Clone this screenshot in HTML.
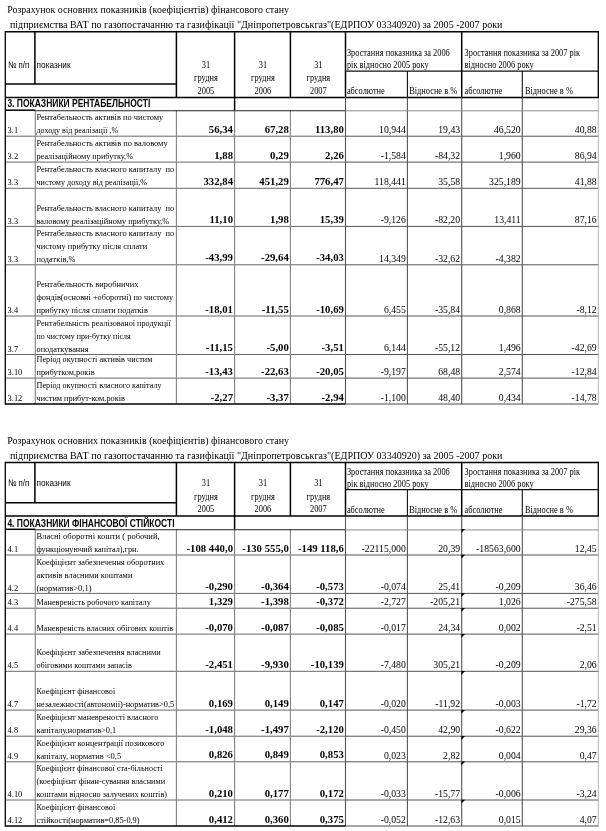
<!DOCTYPE html>
<html lang="uk"><head><meta charset="utf-8"><title>Розрахунок основних показників</title>
<style>
html,body{margin:0;padding:0;background:#fff;}
svg{display:block;filter:blur(0.3px);}
text{white-space:pre;fill:#000;}
.s{font-family:"Liberation Serif","Times New Roman",serif;}
.a{font-family:"Liberation Sans",Arial,sans-serif;}
</style></head><body>
<svg width="606" height="831" viewBox="0 0 606 831">
<rect width="606" height="831" fill="#fff"/>
<text class="s" x="7.15" y="13.40" font-size="9.95">Розрахунок основних показників (коефіцієнтів) фінансового стану</text>
<text class="s" x="9.90" y="28.10" font-size="10.05">підприємства ВАТ по газопостачанню та газифікації "Дніпропетровськгаз"(ЕДРПОУ 03340920) за 2005 -2007 роки</text>
<line x1="5.30" y1="136.20" x2="345.50" y2="136.20" stroke="#686868" stroke-width="1.0"/>
<line x1="345.50" y1="136.20" x2="598.30" y2="136.20" stroke="#555" stroke-width="1.0"/>
<line x1="5.30" y1="162.10" x2="345.50" y2="162.10" stroke="#686868" stroke-width="1.0"/>
<line x1="345.50" y1="162.10" x2="598.30" y2="162.10" stroke="#555" stroke-width="1.0"/>
<line x1="5.30" y1="188.30" x2="345.50" y2="188.30" stroke="#686868" stroke-width="1.0"/>
<line x1="345.50" y1="188.30" x2="598.30" y2="188.30" stroke="#555" stroke-width="1.0"/>
<line x1="5.30" y1="226.40" x2="345.50" y2="226.40" stroke="#686868" stroke-width="1.0"/>
<line x1="345.50" y1="226.40" x2="598.30" y2="226.40" stroke="#555" stroke-width="1.0"/>
<line x1="5.30" y1="264.80" x2="345.50" y2="264.80" stroke="#686868" stroke-width="1.0"/>
<line x1="345.50" y1="264.80" x2="598.30" y2="264.80" stroke="#555" stroke-width="1.0"/>
<line x1="5.30" y1="316.00" x2="345.50" y2="316.00" stroke="#686868" stroke-width="1.0"/>
<line x1="345.50" y1="316.00" x2="598.30" y2="316.00" stroke="#555" stroke-width="1.0"/>
<line x1="5.30" y1="354.50" x2="345.50" y2="354.50" stroke="#686868" stroke-width="1.0"/>
<line x1="345.50" y1="354.50" x2="598.30" y2="354.50" stroke="#555" stroke-width="1.0"/>
<line x1="5.30" y1="378.10" x2="345.50" y2="378.10" stroke="#686868" stroke-width="1.0"/>
<line x1="345.50" y1="378.10" x2="598.30" y2="378.10" stroke="#555" stroke-width="1.0"/>
<line x1="35.30" y1="110.20" x2="35.30" y2="404.00" stroke="#8c8c8c" stroke-width="1.2"/>
<line x1="176.40" y1="110.20" x2="176.40" y2="404.00" stroke="#828282" stroke-width="1.1"/>
<line x1="234.60" y1="110.20" x2="234.60" y2="404.00" stroke="#828282" stroke-width="1.1"/>
<line x1="290.40" y1="110.20" x2="290.40" y2="404.00" stroke="#828282" stroke-width="1.1"/>
<line x1="345.50" y1="110.20" x2="345.50" y2="404.00" stroke="#555" stroke-width="1.1"/>
<line x1="407.40" y1="110.20" x2="407.40" y2="404.00" stroke="#555" stroke-width="1.1"/>
<line x1="461.70" y1="110.20" x2="461.70" y2="404.00" stroke="#555" stroke-width="1.1"/>
<line x1="522.30" y1="110.20" x2="522.30" y2="404.00" stroke="#555" stroke-width="1.1"/>
<line x1="598.30" y1="97.40" x2="598.30" y2="404.00" stroke="#b4b4b4" stroke-width="1.0"/>
<line x1="5.30" y1="31.00" x2="5.30" y2="404.70" stroke="#000" stroke-width="1.3"/>
<line x1="598.30" y1="31.00" x2="598.30" y2="97.90" stroke="#111" stroke-width="1.4"/>
<line x1="5.30" y1="31.70" x2="598.30" y2="31.70" stroke="#000" stroke-width="1.5"/>
<line x1="5.30" y1="404.00" x2="345.50" y2="404.00" stroke="#000" stroke-width="1.5"/>
<line x1="345.50" y1="404.00" x2="598.30" y2="404.00" stroke="#4a4a4a" stroke-width="1.0"/>
<line x1="34.90" y1="31.70" x2="34.90" y2="84.00" stroke="#000" stroke-width="1.5"/>
<line x1="176.40" y1="31.70" x2="176.40" y2="97.40" stroke="#000" stroke-width="1.5"/>
<line x1="234.60" y1="31.70" x2="234.60" y2="97.40" stroke="#000" stroke-width="1.5"/>
<line x1="290.40" y1="31.70" x2="290.40" y2="97.40" stroke="#000" stroke-width="1.5"/>
<line x1="345.50" y1="31.70" x2="345.50" y2="97.40" stroke="#000" stroke-width="1.5"/>
<line x1="461.70" y1="31.70" x2="461.70" y2="97.40" stroke="#000" stroke-width="1.5"/>
<line x1="345.50" y1="71.10" x2="598.30" y2="71.10" stroke="#111" stroke-width="1.2"/>
<line x1="407.40" y1="71.10" x2="407.40" y2="97.40" stroke="#111" stroke-width="1.1"/>
<line x1="522.30" y1="71.10" x2="522.30" y2="97.40" stroke="#111" stroke-width="1.1"/>
<line x1="5.30" y1="84.00" x2="176.40" y2="84.00" stroke="#000" stroke-width="1.5"/>
<line x1="5.30" y1="97.40" x2="598.30" y2="97.40" stroke="#000" stroke-width="1.5"/>
<line x1="5.30" y1="110.20" x2="35.30" y2="110.20" stroke="#000" stroke-width="1.5"/>
<line x1="35.30" y1="110.70" x2="345.50" y2="110.70" stroke="#222" stroke-width="1.1"/>
<line x1="345.50" y1="110.80" x2="598.30" y2="110.80" stroke="#8c8c8c" stroke-width="1.0"/>
<line x1="234.60" y1="97.40" x2="234.60" y2="110.20" stroke="#000" stroke-width="1.5"/>
<line x1="345.50" y1="97.40" x2="345.50" y2="110.20" stroke="#555" stroke-width="1.1"/>
<line x1="407.40" y1="97.40" x2="407.40" y2="110.20" stroke="#555" stroke-width="1.1"/>
<line x1="461.70" y1="97.40" x2="461.70" y2="110.20" stroke="#555" stroke-width="1.1"/>
<line x1="522.30" y1="97.40" x2="522.30" y2="110.20" stroke="#555" stroke-width="1.1"/>
<text class="a" transform="translate(7.90 67.70) scale(0.84 1)" font-size="9.4">№ п/п</text>
<text class="a" transform="translate(36.60 67.70) scale(0.88 1)" font-size="9.4">показник</text>
<text class="s" transform="translate(205.90 67.80) scale(0.886 1)" font-size="9.45" text-anchor="middle">31</text>
<text class="s" transform="translate(205.90 81.40) scale(0.886 1)" font-size="9.45" text-anchor="middle">грудня</text>
<text class="s" transform="translate(205.90 93.70) scale(0.886 1)" font-size="9.45" text-anchor="middle">2005</text>
<text class="s" transform="translate(262.90 67.80) scale(0.886 1)" font-size="9.45" text-anchor="middle">31</text>
<text class="s" transform="translate(262.90 81.40) scale(0.886 1)" font-size="9.45" text-anchor="middle">грудня</text>
<text class="s" transform="translate(262.90 93.70) scale(0.886 1)" font-size="9.45" text-anchor="middle">2006</text>
<text class="s" transform="translate(318.35 67.80) scale(0.886 1)" font-size="9.45" text-anchor="middle">31</text>
<text class="s" transform="translate(318.35 81.40) scale(0.886 1)" font-size="9.45" text-anchor="middle">грудня</text>
<text class="s" transform="translate(318.35 93.70) scale(0.886 1)" font-size="9.45" text-anchor="middle">2007</text>
<text class="s" transform="translate(346.90 56.40) scale(0.886 1)" font-size="9.45">Зростання показника за 2006</text>
<text class="s" transform="translate(346.90 68.20) scale(0.886 1)" font-size="9.45">рік відносно 2005 року</text>
<text class="s" transform="translate(464.60 56.40) scale(0.886 1)" font-size="9.45">Зростання показника за 2007 рік</text>
<text class="s" transform="translate(464.60 68.20) scale(0.886 1)" font-size="9.45">відносно 2006 року</text>
<text class="s" transform="translate(346.90 94.30) scale(0.886 1)" font-size="9.45">абсолютне</text>
<text class="s" transform="translate(409.20 94.30) scale(0.886 1)" font-size="9.45">Відносне в %</text>
<text class="s" transform="translate(464.60 94.30) scale(0.886 1)" font-size="9.45">абсолютне</text>
<text class="s" transform="translate(524.90 94.30) scale(0.886 1)" font-size="9.45">Відносне в %</text>
<text class="a" transform="translate(7.40 107.40) scale(0.85 1)" font-size="10.0" font-weight="bold">3. ПОКАЗНИКИ РЕНТАБЕЛЬНОСТІ</text>
<text class="s" transform="translate(7.60 133.30) scale(0.93 1)" font-size="9.0">3.1</text>
<text class="s" transform="translate(36.50 120.35) scale(0.9324 1)" font-size="9.0">Рентабельность активів по чистому</text>
<text class="s" transform="translate(36.50 133.30) scale(0.897 1)" font-size="9.0">доходу від реалізації ,%</text>
<text class="s" transform="translate(233.00 132.85) scale(0.95 1)" font-size="11.3" text-anchor="end" font-weight="bold">56,34</text>
<text class="s" transform="translate(288.80 132.85) scale(0.95 1)" font-size="11.3" text-anchor="end" font-weight="bold">67,28</text>
<text class="s" transform="translate(343.90 132.85) scale(0.95 1)" font-size="11.3" text-anchor="end" font-weight="bold">113,80</text>
<text class="s" transform="translate(405.80 133.05) scale(0.885 1)" font-size="11.0" text-anchor="end">10,944</text>
<text class="s" transform="translate(460.10 133.05) scale(0.885 1)" font-size="11.0" text-anchor="end">19,43</text>
<text class="s" transform="translate(520.70 133.05) scale(0.885 1)" font-size="11.0" text-anchor="end">46,520</text>
<text class="s" transform="translate(596.70 133.05) scale(0.885 1)" font-size="11.0" text-anchor="end">40,88</text>
<text class="s" transform="translate(7.60 159.20) scale(0.93 1)" font-size="9.0">3.2</text>
<text class="s" transform="translate(36.50 146.25) scale(0.9356 1)" font-size="9.0">Рентабельность активів по валовому</text>
<text class="s" transform="translate(36.50 159.20) scale(0.918 1)" font-size="9.0">реалізаційному прибутку,%</text>
<text class="s" transform="translate(233.00 158.75) scale(0.95 1)" font-size="11.3" text-anchor="end" font-weight="bold">1,88</text>
<text class="s" transform="translate(288.80 158.75) scale(0.95 1)" font-size="11.3" text-anchor="end" font-weight="bold">0,29</text>
<text class="s" transform="translate(343.90 158.75) scale(0.95 1)" font-size="11.3" text-anchor="end" font-weight="bold">2,26</text>
<text class="s" transform="translate(405.80 158.95) scale(0.885 1)" font-size="11.0" text-anchor="end">-1,584</text>
<text class="s" transform="translate(460.10 158.95) scale(0.885 1)" font-size="11.0" text-anchor="end">-84,32</text>
<text class="s" transform="translate(520.70 158.95) scale(0.885 1)" font-size="11.0" text-anchor="end">1,960</text>
<text class="s" transform="translate(596.70 158.95) scale(0.885 1)" font-size="11.0" text-anchor="end">86,94</text>
<text class="s" transform="translate(7.60 185.40) scale(0.93 1)" font-size="9.0">3.3</text>
<text class="s" transform="translate(36.50 172.45) scale(0.9361 1)" font-size="9.0">Рентабельность власного капиталу  по</text>
<text class="s" transform="translate(36.50 185.40) scale(0.9018 1)" font-size="9.0">чистому доходу від реалізації,%</text>
<text class="s" transform="translate(233.00 184.95) scale(0.95 1)" font-size="11.3" text-anchor="end" font-weight="bold">332,84</text>
<text class="s" transform="translate(288.80 184.95) scale(0.95 1)" font-size="11.3" text-anchor="end" font-weight="bold">451,29</text>
<text class="s" transform="translate(343.90 184.95) scale(0.95 1)" font-size="11.3" text-anchor="end" font-weight="bold">776,47</text>
<text class="s" transform="translate(405.80 185.15) scale(0.885 1)" font-size="11.0" text-anchor="end">118,441</text>
<text class="s" transform="translate(460.10 185.15) scale(0.885 1)" font-size="11.0" text-anchor="end">35,58</text>
<text class="s" transform="translate(520.70 185.15) scale(0.885 1)" font-size="11.0" text-anchor="end">325,189</text>
<text class="s" transform="translate(596.70 185.15) scale(0.885 1)" font-size="11.0" text-anchor="end">41,88</text>
<text class="s" transform="translate(7.60 223.50) scale(0.93 1)" font-size="9.0">3.3</text>
<text class="s" transform="translate(36.50 210.55) scale(0.9361 1)" font-size="9.0">Рентабельность власного капиталу  по</text>
<text class="s" transform="translate(36.50 223.50) scale(0.9275 1)" font-size="9.0">валовому реалізаційному прибутку,%</text>
<text class="s" transform="translate(233.00 223.05) scale(0.95 1)" font-size="11.3" text-anchor="end" font-weight="bold">11,10</text>
<text class="s" transform="translate(288.80 223.05) scale(0.95 1)" font-size="11.3" text-anchor="end" font-weight="bold">1,98</text>
<text class="s" transform="translate(343.90 223.05) scale(0.95 1)" font-size="11.3" text-anchor="end" font-weight="bold">15,39</text>
<text class="s" transform="translate(405.80 223.25) scale(0.885 1)" font-size="11.0" text-anchor="end">-9,126</text>
<text class="s" transform="translate(460.10 223.25) scale(0.885 1)" font-size="11.0" text-anchor="end">-82,20</text>
<text class="s" transform="translate(520.70 223.25) scale(0.885 1)" font-size="11.0" text-anchor="end">13,411</text>
<text class="s" transform="translate(596.70 223.25) scale(0.885 1)" font-size="11.0" text-anchor="end">87,16</text>
<text class="s" transform="translate(7.60 261.90) scale(0.93 1)" font-size="9.0">3.3</text>
<text class="s" transform="translate(36.50 236.00) scale(0.9361 1)" font-size="9.0">Рентабельность власного капиталу  по</text>
<text class="s" transform="translate(36.50 248.95) scale(0.9254 1)" font-size="9.0">чистому прибутку після сплати</text>
<text class="s" transform="translate(36.50 261.90) scale(0.9241 1)" font-size="9.0">податків,%</text>
<text class="s" transform="translate(233.00 261.45) scale(0.95 1)" font-size="11.3" text-anchor="end" font-weight="bold">-43,99</text>
<text class="s" transform="translate(288.80 261.45) scale(0.95 1)" font-size="11.3" text-anchor="end" font-weight="bold">-29,64</text>
<text class="s" transform="translate(343.90 261.45) scale(0.95 1)" font-size="11.3" text-anchor="end" font-weight="bold">-34,03</text>
<text class="s" transform="translate(405.80 261.65) scale(0.885 1)" font-size="11.0" text-anchor="end">14,349</text>
<text class="s" transform="translate(460.10 261.65) scale(0.885 1)" font-size="11.0" text-anchor="end">-32,62</text>
<text class="s" transform="translate(520.70 261.65) scale(0.885 1)" font-size="11.0" text-anchor="end">-4,382</text>
<text class="s" transform="translate(7.60 313.10) scale(0.93 1)" font-size="9.0">3.4</text>
<text class="s" transform="translate(36.50 287.20) scale(0.939 1)" font-size="9.0">Рентабельность виробничих</text>
<text class="s" transform="translate(36.50 300.15) scale(0.9206 1)" font-size="9.0">фондів(основні +оборотні) по чистому</text>
<text class="s" transform="translate(36.50 313.10) scale(0.9252 1)" font-size="9.0">прибутку після сплати податків</text>
<text class="s" transform="translate(233.00 312.65) scale(0.95 1)" font-size="11.3" text-anchor="end" font-weight="bold">-18,01</text>
<text class="s" transform="translate(288.80 312.65) scale(0.95 1)" font-size="11.3" text-anchor="end" font-weight="bold">-11,55</text>
<text class="s" transform="translate(343.90 312.65) scale(0.95 1)" font-size="11.3" text-anchor="end" font-weight="bold">-10,69</text>
<text class="s" transform="translate(405.80 312.85) scale(0.885 1)" font-size="11.0" text-anchor="end">6,455</text>
<text class="s" transform="translate(460.10 312.85) scale(0.885 1)" font-size="11.0" text-anchor="end">-35,84</text>
<text class="s" transform="translate(520.70 312.85) scale(0.885 1)" font-size="11.0" text-anchor="end">0,868</text>
<text class="s" transform="translate(596.70 312.85) scale(0.885 1)" font-size="11.0" text-anchor="end">-8,12</text>
<text class="s" transform="translate(7.60 351.60) scale(0.93 1)" font-size="9.0">3.7</text>
<text class="s" transform="translate(36.50 325.70) scale(0.9131 1)" font-size="9.0">Рентабельність реалізованої продукції</text>
<text class="s" transform="translate(36.50 338.65) scale(0.8867 1)" font-size="9.0">по чистому при-бутку після</text>
<text class="s" transform="translate(36.50 351.60) scale(0.9225 1)" font-size="9.0">оподаткування</text>
<text class="s" transform="translate(233.00 351.15) scale(0.95 1)" font-size="11.3" text-anchor="end" font-weight="bold">-11,15</text>
<text class="s" transform="translate(288.80 351.15) scale(0.95 1)" font-size="11.3" text-anchor="end" font-weight="bold">-5,00</text>
<text class="s" transform="translate(343.90 351.15) scale(0.95 1)" font-size="11.3" text-anchor="end" font-weight="bold">-3,51</text>
<text class="s" transform="translate(405.80 351.35) scale(0.885 1)" font-size="11.0" text-anchor="end">6,144</text>
<text class="s" transform="translate(460.10 351.35) scale(0.885 1)" font-size="11.0" text-anchor="end">-55,12</text>
<text class="s" transform="translate(520.70 351.35) scale(0.885 1)" font-size="11.0" text-anchor="end">1,496</text>
<text class="s" transform="translate(596.70 351.35) scale(0.885 1)" font-size="11.0" text-anchor="end">-42,69</text>
<text class="s" transform="translate(7.60 375.20) scale(0.93 1)" font-size="9.0">3.10</text>
<text class="s" transform="translate(36.50 362.25) scale(0.9159 1)" font-size="9.0">Період окупності активів чистим</text>
<text class="s" transform="translate(36.50 375.20) scale(0.9205 1)" font-size="9.0">прибутком,років</text>
<text class="s" transform="translate(233.00 374.75) scale(0.95 1)" font-size="11.3" text-anchor="end" font-weight="bold">-13,43</text>
<text class="s" transform="translate(288.80 374.75) scale(0.95 1)" font-size="11.3" text-anchor="end" font-weight="bold">-22,63</text>
<text class="s" transform="translate(343.90 374.75) scale(0.95 1)" font-size="11.3" text-anchor="end" font-weight="bold">-20,05</text>
<text class="s" transform="translate(405.80 374.95) scale(0.885 1)" font-size="11.0" text-anchor="end">-9,197</text>
<text class="s" transform="translate(460.10 374.95) scale(0.885 1)" font-size="11.0" text-anchor="end">68,48</text>
<text class="s" transform="translate(520.70 374.95) scale(0.885 1)" font-size="11.0" text-anchor="end">2,574</text>
<text class="s" transform="translate(596.70 374.95) scale(0.885 1)" font-size="11.0" text-anchor="end">-12,84</text>
<text class="s" transform="translate(7.60 401.10) scale(0.93 1)" font-size="9.0">3.12</text>
<text class="s" transform="translate(36.50 388.15) scale(0.9096 1)" font-size="9.0">Період окупності власного капіталу</text>
<text class="s" transform="translate(36.50 401.10) scale(0.9205 1)" font-size="9.0">чистим прибут-ком,років</text>
<text class="s" transform="translate(233.00 400.65) scale(0.95 1)" font-size="11.3" text-anchor="end" font-weight="bold">-2,27</text>
<text class="s" transform="translate(288.80 400.65) scale(0.95 1)" font-size="11.3" text-anchor="end" font-weight="bold">-3,37</text>
<text class="s" transform="translate(343.90 400.65) scale(0.95 1)" font-size="11.3" text-anchor="end" font-weight="bold">-2,94</text>
<text class="s" transform="translate(405.80 400.85) scale(0.885 1)" font-size="11.0" text-anchor="end">-1,100</text>
<text class="s" transform="translate(460.10 400.85) scale(0.885 1)" font-size="11.0" text-anchor="end">48,40</text>
<text class="s" transform="translate(520.70 400.85) scale(0.885 1)" font-size="11.0" text-anchor="end">0,434</text>
<text class="s" transform="translate(596.70 400.85) scale(0.885 1)" font-size="11.0" text-anchor="end">-14,78</text>
<text class="s" x="7.15" y="444.20" font-size="9.95">Розрахунок основних показників (коефіцієнтів) фінансового стану</text>
<text class="s" x="9.90" y="458.90" font-size="10.05">підприємства ВАТ по газопостачанню та газифікації "Дніпропетровськгаз"(ЕДРПОУ 03340920) за 2005 -2007 роки</text>
<line x1="5.30" y1="555.00" x2="345.50" y2="555.00" stroke="#686868" stroke-width="1.0"/>
<line x1="345.50" y1="555.00" x2="598.30" y2="555.00" stroke="#555" stroke-width="1.0"/>
<line x1="5.30" y1="593.40" x2="345.50" y2="593.40" stroke="#686868" stroke-width="1.0"/>
<line x1="345.50" y1="593.40" x2="598.30" y2="593.40" stroke="#555" stroke-width="1.0"/>
<line x1="5.30" y1="608.20" x2="345.50" y2="608.20" stroke="#686868" stroke-width="1.0"/>
<line x1="345.50" y1="608.20" x2="598.30" y2="608.20" stroke="#555" stroke-width="1.0"/>
<line x1="5.30" y1="634.10" x2="345.50" y2="634.10" stroke="#686868" stroke-width="1.0"/>
<line x1="345.50" y1="634.10" x2="598.30" y2="634.10" stroke="#555" stroke-width="1.0"/>
<line x1="5.30" y1="671.30" x2="345.50" y2="671.30" stroke="#686868" stroke-width="1.0"/>
<line x1="345.50" y1="671.30" x2="598.30" y2="671.30" stroke="#555" stroke-width="1.0"/>
<line x1="5.30" y1="710.10" x2="345.50" y2="710.10" stroke="#686868" stroke-width="1.0"/>
<line x1="345.50" y1="710.10" x2="598.30" y2="710.10" stroke="#555" stroke-width="1.0"/>
<line x1="5.30" y1="736.20" x2="345.50" y2="736.20" stroke="#686868" stroke-width="1.0"/>
<line x1="345.50" y1="736.20" x2="598.30" y2="736.20" stroke="#555" stroke-width="1.0"/>
<line x1="5.30" y1="761.80" x2="345.50" y2="761.80" stroke="#686868" stroke-width="1.0"/>
<line x1="345.50" y1="761.80" x2="598.30" y2="761.80" stroke="#555" stroke-width="1.0"/>
<line x1="5.30" y1="800.00" x2="345.50" y2="800.00" stroke="#686868" stroke-width="1.0"/>
<line x1="345.50" y1="800.00" x2="598.30" y2="800.00" stroke="#555" stroke-width="1.0"/>
<line x1="35.30" y1="529.30" x2="35.30" y2="826.00" stroke="#8c8c8c" stroke-width="1.2"/>
<line x1="176.40" y1="529.30" x2="176.40" y2="826.00" stroke="#828282" stroke-width="1.1"/>
<line x1="234.60" y1="529.30" x2="234.60" y2="826.00" stroke="#828282" stroke-width="1.1"/>
<line x1="290.40" y1="529.30" x2="290.40" y2="826.00" stroke="#828282" stroke-width="1.1"/>
<line x1="345.50" y1="529.30" x2="345.50" y2="826.00" stroke="#555" stroke-width="1.1"/>
<line x1="407.40" y1="529.30" x2="407.40" y2="826.00" stroke="#555" stroke-width="1.1"/>
<line x1="461.70" y1="529.30" x2="461.70" y2="826.00" stroke="#555" stroke-width="1.1"/>
<line x1="522.30" y1="529.30" x2="522.30" y2="826.00" stroke="#555" stroke-width="1.1"/>
<line x1="598.30" y1="516.00" x2="598.30" y2="826.00" stroke="#b4b4b4" stroke-width="1.0"/>
<line x1="5.30" y1="461.70" x2="5.30" y2="826.70" stroke="#000" stroke-width="1.3"/>
<line x1="598.30" y1="461.70" x2="598.30" y2="516.50" stroke="#111" stroke-width="1.4"/>
<line x1="5.30" y1="462.40" x2="598.30" y2="462.40" stroke="#000" stroke-width="1.5"/>
<line x1="5.30" y1="826.00" x2="345.50" y2="826.00" stroke="#000" stroke-width="1.5"/>
<line x1="345.50" y1="826.00" x2="598.30" y2="826.00" stroke="#4a4a4a" stroke-width="1.0"/>
<line x1="34.90" y1="462.40" x2="34.90" y2="502.70" stroke="#000" stroke-width="1.5"/>
<line x1="176.40" y1="462.40" x2="176.40" y2="516.00" stroke="#000" stroke-width="1.5"/>
<line x1="234.60" y1="462.40" x2="234.60" y2="516.00" stroke="#000" stroke-width="1.5"/>
<line x1="290.40" y1="462.40" x2="290.40" y2="516.00" stroke="#000" stroke-width="1.5"/>
<line x1="345.50" y1="462.40" x2="345.50" y2="516.00" stroke="#000" stroke-width="1.5"/>
<line x1="461.70" y1="462.40" x2="461.70" y2="516.00" stroke="#000" stroke-width="1.5"/>
<line x1="345.50" y1="489.70" x2="598.30" y2="489.70" stroke="#111" stroke-width="1.2"/>
<line x1="407.40" y1="489.70" x2="407.40" y2="516.00" stroke="#111" stroke-width="1.1"/>
<line x1="522.30" y1="489.70" x2="522.30" y2="516.00" stroke="#111" stroke-width="1.1"/>
<line x1="5.30" y1="502.70" x2="176.40" y2="502.70" stroke="#000" stroke-width="1.5"/>
<line x1="5.30" y1="516.00" x2="598.30" y2="516.00" stroke="#000" stroke-width="1.5"/>
<line x1="5.30" y1="529.30" x2="35.30" y2="529.30" stroke="#000" stroke-width="1.5"/>
<line x1="35.30" y1="529.80" x2="345.50" y2="529.80" stroke="#222" stroke-width="1.1"/>
<line x1="345.50" y1="529.90" x2="598.30" y2="529.90" stroke="#8c8c8c" stroke-width="1.0"/>
<line x1="234.60" y1="516.00" x2="234.60" y2="529.30" stroke="#000" stroke-width="1.5"/>
<line x1="345.50" y1="516.00" x2="345.50" y2="529.30" stroke="#555" stroke-width="1.1"/>
<line x1="407.40" y1="516.00" x2="407.40" y2="529.30" stroke="#555" stroke-width="1.1"/>
<line x1="461.70" y1="516.00" x2="461.70" y2="529.30" stroke="#555" stroke-width="1.1"/>
<line x1="522.30" y1="516.00" x2="522.30" y2="529.30" stroke="#555" stroke-width="1.1"/>
<text class="a" transform="translate(7.90 486.40) scale(0.84 1)" font-size="9.4">№ п/п</text>
<text class="a" transform="translate(36.60 486.40) scale(0.88 1)" font-size="9.4">показник</text>
<text class="s" transform="translate(205.90 486.40) scale(0.886 1)" font-size="9.45" text-anchor="middle">31</text>
<text class="s" transform="translate(205.90 500.00) scale(0.886 1)" font-size="9.45" text-anchor="middle">грудня</text>
<text class="s" transform="translate(205.90 512.30) scale(0.886 1)" font-size="9.45" text-anchor="middle">2005</text>
<text class="s" transform="translate(262.90 486.40) scale(0.886 1)" font-size="9.45" text-anchor="middle">31</text>
<text class="s" transform="translate(262.90 500.00) scale(0.886 1)" font-size="9.45" text-anchor="middle">грудня</text>
<text class="s" transform="translate(262.90 512.30) scale(0.886 1)" font-size="9.45" text-anchor="middle">2006</text>
<text class="s" transform="translate(318.35 486.40) scale(0.886 1)" font-size="9.45" text-anchor="middle">31</text>
<text class="s" transform="translate(318.35 500.00) scale(0.886 1)" font-size="9.45" text-anchor="middle">грудня</text>
<text class="s" transform="translate(318.35 512.30) scale(0.886 1)" font-size="9.45" text-anchor="middle">2007</text>
<text class="s" transform="translate(346.90 475.00) scale(0.886 1)" font-size="9.45">Зростання показника за 2006</text>
<text class="s" transform="translate(346.90 486.80) scale(0.886 1)" font-size="9.45">рік відносно 2005 року</text>
<text class="s" transform="translate(464.60 475.00) scale(0.886 1)" font-size="9.45">Зростання показника за 2007 рік</text>
<text class="s" transform="translate(464.60 486.80) scale(0.886 1)" font-size="9.45">відносно 2006 року</text>
<text class="s" transform="translate(346.90 512.90) scale(0.886 1)" font-size="9.45">абсолютне</text>
<text class="s" transform="translate(409.20 512.90) scale(0.886 1)" font-size="9.45">Відносне в %</text>
<text class="s" transform="translate(464.60 512.90) scale(0.886 1)" font-size="9.45">абсолютне</text>
<text class="s" transform="translate(524.90 512.90) scale(0.886 1)" font-size="9.45">Відносне в %</text>
<text class="a" transform="translate(7.40 526.50) scale(0.85 1)" font-size="10.0" font-weight="bold">4. ПОКАЗНИКИ ФІНАНСОВОЇ СТІЙКОСТІ</text>
<path d="M461.30 529.10h3.8l-3.8 3.9z" fill="#000"/>
<text class="s" transform="translate(7.60 552.10) scale(0.93 1)" font-size="9.0">4.1</text>
<text class="s" transform="translate(36.50 539.15) scale(0.9487 1)" font-size="9.0">Власні оборотні кошти ( робочий,</text>
<text class="s" transform="translate(36.50 552.10) scale(0.9135 1)" font-size="9.0">функціонуючий капітал),грн.</text>
<text class="s" transform="translate(233.00 551.65) scale(0.95 1)" font-size="11.3" text-anchor="end" font-weight="bold">-108 440,0</text>
<text class="s" transform="translate(288.80 551.65) scale(0.95 1)" font-size="11.3" text-anchor="end" font-weight="bold">-130 555,0</text>
<text class="s" transform="translate(343.90 551.65) scale(0.95 1)" font-size="11.3" text-anchor="end" font-weight="bold">-149 118,6</text>
<text class="s" transform="translate(405.80 551.85) scale(0.885 1)" font-size="11.0" text-anchor="end">-22115,000</text>
<text class="s" transform="translate(460.10 551.85) scale(0.885 1)" font-size="11.0" text-anchor="end">20,39</text>
<text class="s" transform="translate(520.70 551.85) scale(0.885 1)" font-size="11.0" text-anchor="end">-18563,600</text>
<text class="s" transform="translate(596.70 551.85) scale(0.885 1)" font-size="11.0" text-anchor="end">12,45</text>
<path d="M461.30 554.80h3.8l-3.8 3.9z" fill="#000"/>
<text class="s" transform="translate(7.60 590.50) scale(0.93 1)" font-size="9.0">4.2</text>
<text class="s" transform="translate(36.50 564.60) scale(0.9275 1)" font-size="9.0">Коефіцієнт забезпечення оборотних</text>
<text class="s" transform="translate(36.50 577.55) scale(0.9297 1)" font-size="9.0">активів власними коштами</text>
<text class="s" transform="translate(36.50 590.50) scale(0.9436 1)" font-size="9.0">(норматив&gt;0,1)</text>
<text class="s" transform="translate(233.00 590.05) scale(0.95 1)" font-size="11.3" text-anchor="end" font-weight="bold">-0,290</text>
<text class="s" transform="translate(288.80 590.05) scale(0.95 1)" font-size="11.3" text-anchor="end" font-weight="bold">-0,364</text>
<text class="s" transform="translate(343.90 590.05) scale(0.95 1)" font-size="11.3" text-anchor="end" font-weight="bold">-0,573</text>
<text class="s" transform="translate(405.80 590.25) scale(0.885 1)" font-size="11.0" text-anchor="end">-0,074</text>
<text class="s" transform="translate(460.10 590.25) scale(0.885 1)" font-size="11.0" text-anchor="end">25,41</text>
<text class="s" transform="translate(520.70 590.25) scale(0.885 1)" font-size="11.0" text-anchor="end">-0,209</text>
<text class="s" transform="translate(596.70 590.25) scale(0.885 1)" font-size="11.0" text-anchor="end">36,46</text>
<path d="M461.30 593.20h3.8l-3.8 3.9z" fill="#000"/>
<text class="s" transform="translate(7.60 605.30) scale(0.93 1)" font-size="9.0">4.3</text>
<text class="s" transform="translate(36.50 605.30) scale(0.9176 1)" font-size="9.0">Маневреність робочого капіталу</text>
<text class="s" transform="translate(233.00 604.85) scale(0.95 1)" font-size="11.3" text-anchor="end" font-weight="bold">1,329</text>
<text class="s" transform="translate(288.80 604.85) scale(0.95 1)" font-size="11.3" text-anchor="end" font-weight="bold">-1,398</text>
<text class="s" transform="translate(343.90 604.85) scale(0.95 1)" font-size="11.3" text-anchor="end" font-weight="bold">-0,372</text>
<text class="s" transform="translate(405.80 605.05) scale(0.885 1)" font-size="11.0" text-anchor="end">-2,727</text>
<text class="s" transform="translate(460.10 605.05) scale(0.885 1)" font-size="11.0" text-anchor="end">-205,21</text>
<text class="s" transform="translate(520.70 605.05) scale(0.885 1)" font-size="11.0" text-anchor="end">1,026</text>
<text class="s" transform="translate(596.70 605.05) scale(0.885 1)" font-size="11.0" text-anchor="end">-275,58</text>
<path d="M461.30 608.00h3.8l-3.8 3.9z" fill="#000"/>
<text class="s" transform="translate(7.60 631.20) scale(0.93 1)" font-size="9.0">4.4</text>
<text class="s" transform="translate(36.50 631.20) scale(0.9148 1)" font-size="9.0">Маневреність власних обігових коштів</text>
<text class="s" transform="translate(233.00 630.75) scale(0.95 1)" font-size="11.3" text-anchor="end" font-weight="bold">-0,070</text>
<text class="s" transform="translate(288.80 630.75) scale(0.95 1)" font-size="11.3" text-anchor="end" font-weight="bold">-0,087</text>
<text class="s" transform="translate(343.90 630.75) scale(0.95 1)" font-size="11.3" text-anchor="end" font-weight="bold">-0,085</text>
<text class="s" transform="translate(405.80 630.95) scale(0.885 1)" font-size="11.0" text-anchor="end">-0,017</text>
<text class="s" transform="translate(460.10 630.95) scale(0.885 1)" font-size="11.0" text-anchor="end">24,34</text>
<text class="s" transform="translate(520.70 630.95) scale(0.885 1)" font-size="11.0" text-anchor="end">0,002</text>
<text class="s" transform="translate(596.70 630.95) scale(0.885 1)" font-size="11.0" text-anchor="end">-2,51</text>
<path d="M461.30 633.90h3.8l-3.8 3.9z" fill="#000"/>
<text class="s" transform="translate(7.60 668.40) scale(0.93 1)" font-size="9.0">4.5</text>
<text class="s" transform="translate(36.50 655.45) scale(0.926 1)" font-size="9.0">Коефіцієнт забезпечення власними</text>
<text class="s" transform="translate(36.50 668.40) scale(0.9129 1)" font-size="9.0">обіговими коштами запасів</text>
<text class="s" transform="translate(233.00 667.95) scale(0.95 1)" font-size="11.3" text-anchor="end" font-weight="bold">-2,451</text>
<text class="s" transform="translate(288.80 667.95) scale(0.95 1)" font-size="11.3" text-anchor="end" font-weight="bold">-9,930</text>
<text class="s" transform="translate(343.90 667.95) scale(0.95 1)" font-size="11.3" text-anchor="end" font-weight="bold">-10,139</text>
<text class="s" transform="translate(405.80 668.15) scale(0.885 1)" font-size="11.0" text-anchor="end">-7,480</text>
<text class="s" transform="translate(460.10 668.15) scale(0.885 1)" font-size="11.0" text-anchor="end">305,21</text>
<text class="s" transform="translate(520.70 668.15) scale(0.885 1)" font-size="11.0" text-anchor="end">-0,209</text>
<text class="s" transform="translate(596.70 668.15) scale(0.885 1)" font-size="11.0" text-anchor="end">2,06</text>
<path d="M461.30 671.10h3.8l-3.8 3.9z" fill="#000"/>
<text class="s" transform="translate(7.60 707.20) scale(0.93 1)" font-size="9.0">4.7</text>
<text class="s" transform="translate(36.50 694.25) scale(0.9095 1)" font-size="9.0">Коефіцієнт фінансової</text>
<text class="s" transform="translate(36.50 707.20) scale(0.9275 1)" font-size="9.0">незалежності(автономії)-норматив&gt;0,5</text>
<text class="s" transform="translate(233.00 706.75) scale(0.95 1)" font-size="11.3" text-anchor="end" font-weight="bold">0,169</text>
<text class="s" transform="translate(288.80 706.75) scale(0.95 1)" font-size="11.3" text-anchor="end" font-weight="bold">0,149</text>
<text class="s" transform="translate(343.90 706.75) scale(0.95 1)" font-size="11.3" text-anchor="end" font-weight="bold">0,147</text>
<text class="s" transform="translate(405.80 706.95) scale(0.885 1)" font-size="11.0" text-anchor="end">-0,020</text>
<text class="s" transform="translate(460.10 706.95) scale(0.885 1)" font-size="11.0" text-anchor="end">-11,92</text>
<text class="s" transform="translate(520.70 706.95) scale(0.885 1)" font-size="11.0" text-anchor="end">-0,003</text>
<text class="s" transform="translate(596.70 706.95) scale(0.885 1)" font-size="11.0" text-anchor="end">-1,72</text>
<path d="M461.30 709.90h3.8l-3.8 3.9z" fill="#000"/>
<text class="s" transform="translate(7.60 733.30) scale(0.93 1)" font-size="9.0">4.8</text>
<text class="s" transform="translate(36.50 720.35) scale(0.9229 1)" font-size="9.0">Коефіцієнт маневреності власного</text>
<text class="s" transform="translate(36.50 733.30) scale(0.9248 1)" font-size="9.0">капіталу,норматив&gt;0,1</text>
<text class="s" transform="translate(233.00 732.85) scale(0.95 1)" font-size="11.3" text-anchor="end" font-weight="bold">-1,048</text>
<text class="s" transform="translate(288.80 732.85) scale(0.95 1)" font-size="11.3" text-anchor="end" font-weight="bold">-1,497</text>
<text class="s" transform="translate(343.90 732.85) scale(0.95 1)" font-size="11.3" text-anchor="end" font-weight="bold">-2,120</text>
<text class="s" transform="translate(405.80 733.05) scale(0.885 1)" font-size="11.0" text-anchor="end">-0,450</text>
<text class="s" transform="translate(460.10 733.05) scale(0.885 1)" font-size="11.0" text-anchor="end">42,90</text>
<text class="s" transform="translate(520.70 733.05) scale(0.885 1)" font-size="11.0" text-anchor="end">-0,622</text>
<text class="s" transform="translate(596.70 733.05) scale(0.885 1)" font-size="11.0" text-anchor="end">29,36</text>
<path d="M461.30 736.00h3.8l-3.8 3.9z" fill="#000"/>
<text class="s" transform="translate(7.60 758.90) scale(0.93 1)" font-size="9.0">4.9</text>
<text class="s" transform="translate(36.50 745.95) scale(0.9216 1)" font-size="9.0">Коефіцієнт концентрації позикового</text>
<text class="s" transform="translate(36.50 758.90) scale(0.934 1)" font-size="9.0">капіталу, норматив &lt;0,5</text>
<text class="s" transform="translate(233.00 758.45) scale(0.95 1)" font-size="11.3" text-anchor="end" font-weight="bold">0,826</text>
<text class="s" transform="translate(288.80 758.45) scale(0.95 1)" font-size="11.3" text-anchor="end" font-weight="bold">0,849</text>
<text class="s" transform="translate(343.90 758.45) scale(0.95 1)" font-size="11.3" text-anchor="end" font-weight="bold">0,853</text>
<text class="s" transform="translate(405.80 758.65) scale(0.885 1)" font-size="11.0" text-anchor="end">0,023</text>
<text class="s" transform="translate(460.10 758.65) scale(0.885 1)" font-size="11.0" text-anchor="end">2,82</text>
<text class="s" transform="translate(520.70 758.65) scale(0.885 1)" font-size="11.0" text-anchor="end">0,004</text>
<text class="s" transform="translate(596.70 758.65) scale(0.885 1)" font-size="11.0" text-anchor="end">0,47</text>
<path d="M461.30 761.60h3.8l-3.8 3.9z" fill="#000"/>
<text class="s" transform="translate(7.60 797.10) scale(0.93 1)" font-size="9.0">4.10</text>
<text class="s" transform="translate(36.50 771.20) scale(0.9071 1)" font-size="9.0">Коефіцієнт фінансової ста-більності</text>
<text class="s" transform="translate(36.50 784.15) scale(0.9175 1)" font-size="9.0">(коефіцієнт фінан-сування власними</text>
<text class="s" transform="translate(36.50 797.10) scale(0.9125 1)" font-size="9.0">коштами відносно залучених коштів)</text>
<text class="s" transform="translate(233.00 796.65) scale(0.95 1)" font-size="11.3" text-anchor="end" font-weight="bold">0,210</text>
<text class="s" transform="translate(288.80 796.65) scale(0.95 1)" font-size="11.3" text-anchor="end" font-weight="bold">0,177</text>
<text class="s" transform="translate(343.90 796.65) scale(0.95 1)" font-size="11.3" text-anchor="end" font-weight="bold">0,172</text>
<text class="s" transform="translate(405.80 796.85) scale(0.885 1)" font-size="11.0" text-anchor="end">-0,033</text>
<text class="s" transform="translate(460.10 796.85) scale(0.885 1)" font-size="11.0" text-anchor="end">-15,77</text>
<text class="s" transform="translate(520.70 796.85) scale(0.885 1)" font-size="11.0" text-anchor="end">-0,006</text>
<text class="s" transform="translate(596.70 796.85) scale(0.885 1)" font-size="11.0" text-anchor="end">-3,24</text>
<path d="M461.30 799.80h3.8l-3.8 3.9z" fill="#000"/>
<text class="s" transform="translate(7.60 823.10) scale(0.93 1)" font-size="9.0">4.12</text>
<text class="s" transform="translate(36.50 810.15) scale(0.9095 1)" font-size="9.0">Коефіцієнт фінансової</text>
<text class="s" transform="translate(36.50 823.10) scale(0.9268 1)" font-size="9.0">стійкості(норматив=0,85-0,9)</text>
<text class="s" transform="translate(233.00 822.65) scale(0.95 1)" font-size="11.3" text-anchor="end" font-weight="bold">0,412</text>
<text class="s" transform="translate(288.80 822.65) scale(0.95 1)" font-size="11.3" text-anchor="end" font-weight="bold">0,360</text>
<text class="s" transform="translate(343.90 822.65) scale(0.95 1)" font-size="11.3" text-anchor="end" font-weight="bold">0,375</text>
<text class="s" transform="translate(405.80 822.85) scale(0.885 1)" font-size="11.0" text-anchor="end">-0,052</text>
<text class="s" transform="translate(460.10 822.85) scale(0.885 1)" font-size="11.0" text-anchor="end">-12,63</text>
<text class="s" transform="translate(520.70 822.85) scale(0.885 1)" font-size="11.0" text-anchor="end">0,015</text>
<text class="s" transform="translate(596.70 822.85) scale(0.885 1)" font-size="11.0" text-anchor="end">4,07</text>
</svg>
</body></html>
